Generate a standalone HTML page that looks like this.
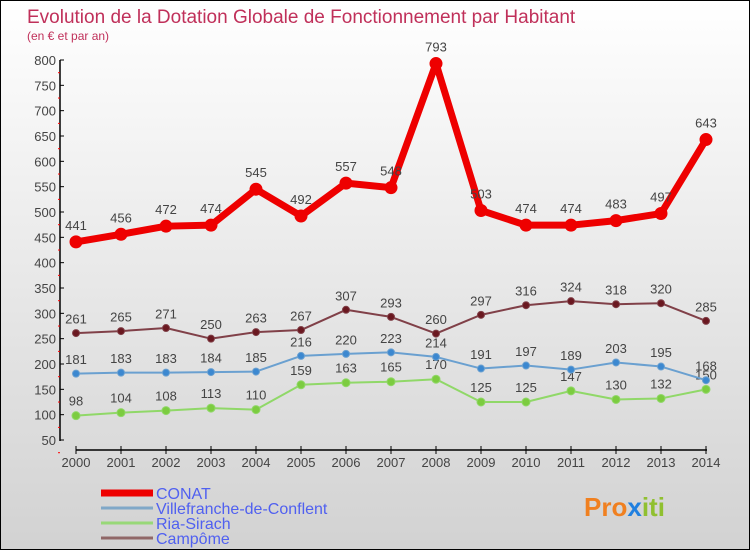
<!DOCTYPE html>
<html><head><meta charset="utf-8"><style>
body{margin:0}
#c{width:750px;height:550px;position:relative;box-sizing:border-box;border:1px solid #000;background:linear-gradient(#fff,#d2d2d2);font-family:"Liberation Sans",sans-serif;overflow:hidden}
</style></head><body>
<div id="c">
<svg id="s" width="748" height="548" style="position:absolute;left:0;top:0"></svg>
</div>
<script>
const years=[2000,2001,2002,2003,2004,2005,2006,2007,2008,2009,2010,2011,2012,2013,2014];
const conat=[441,456,472,474,545,492,557,548,793,503,474,474,483,497,643];
const ville=[181,183,183,184,185,216,220,223,214,191,197,189,203,195,168];
const ria=[98,104,108,113,110,159,163,165,170,125,125,147,130,132,150];
const camp=[261,265,271,250,263,267,307,293,260,297,316,324,318,320,285];
const yTicks=[50,100,150,200,250,300,350,400,450,500,550,600,650,700,750,800];
const NS='http://www.w3.org/2000/svg';
const s=document.getElementById('s');
function X(i){return 75+i*45;}
function Y(v){return 59+(800-v)*380/750;}
function el(t,a,name){const e=document.createElementNS(NS,t);for(const k in a)e.setAttribute(k,a[k]);


s.appendChild(e);return e;}
function txt(x,y,str,a,name){const e=el('text',Object.assign({x:x,y:y},a),name);e.textContent=str;return e;}
txt(26,22,'Evolution de la Dotation Globale de Fonctionnement par Habitant',{fill:'#c0305a','font-size':19},'chart-title');
txt(26,39,'(en € et par an)',{fill:'#c0305a','font-size':12},'chart-subtitle');
el('line',{x1:59,y1:59,x2:59,y2:440,stroke:'#000','stroke-width':1.5},'y-axis');
el('line',{x1:75,y1:449,x2:706,y2:449,stroke:'#000','stroke-width':1.5},'x-axis');
yTicks.forEach(v=>{const y=Y(v);
el('line',{x1:59,y1:y,x2:63,y2:y,stroke:'#000'},'y-tick');
el('line',{x1:57,y1:y+12.7,x2:59,y2:y+12.7,stroke:'#f00'},'y-minor-tick');
txt(55,y+5,v,{fill:'#444','font-size':13,'text-anchor':'end'},'y-tick-label');});
years.forEach((yr,i)=>{el('line',{x1:X(i),y1:445,x2:X(i),y2:453,stroke:'#000'},'x-tick');
txt(X(i),466,yr,{fill:'#444','font-size':13,'text-anchor':'middle'},'x-tick-label');});
function series(d,col,w,r,dot,name){
el('polyline',{points:d.map((v,i)=>X(i)+','+Y(v)).join(' '),fill:'none',stroke:col,'stroke-width':w,'stroke-linejoin':'round'},name+'-line');
d.forEach((v,i)=>{el('circle',{cx:X(i),cy:Y(v),r:r,fill:dot,stroke:col,'stroke-width':1},name+'-point');
txt(X(i),Y(v)-(r+6),v,{fill:'#444','font-size':13,'text-anchor':'middle'},name+'-value-label');});}
series(ria,'#90d868',2,4,'#7ccc40','ria-sirach');
series(ville,'#6aa0d0',2,3.5,'#3c88d0','villefranche');
series(camp,'#804048',2,3.5,'#6a1820','campome');
series(conat,'#ee0000',7,6,'#ee0000','conat');
const leg=[['CONAT','#ee0000',7],['Villefranche-de-Conflent','#80a8c8',3],['Ria-Sirach','#98d878',3],['Campôme','#906868',3]];
leg.forEach((l,i)=>{const y=492+i*15;
el('line',{x1:100,y1:y,x2:152,y2:y,stroke:l[1],'stroke-width':l[2]},'legend-swatch');
txt(155,y+6,l[0],{fill:'#5060f0','font-size':16},'legend-entry');});
const logo=txt(583,515,'',{'font-size':26,'font-weight':'bold'},'logo');
[['Pr','#f08020'],['o','#f08020'],['x','#2080e0'],['iti','#90c030']].forEach(p=>{const t=document.createElementNS(NS,'tspan');t.setAttribute('fill',p[1]);t.textContent=p[0];logo.appendChild(t);});
</script>
</body></html>
